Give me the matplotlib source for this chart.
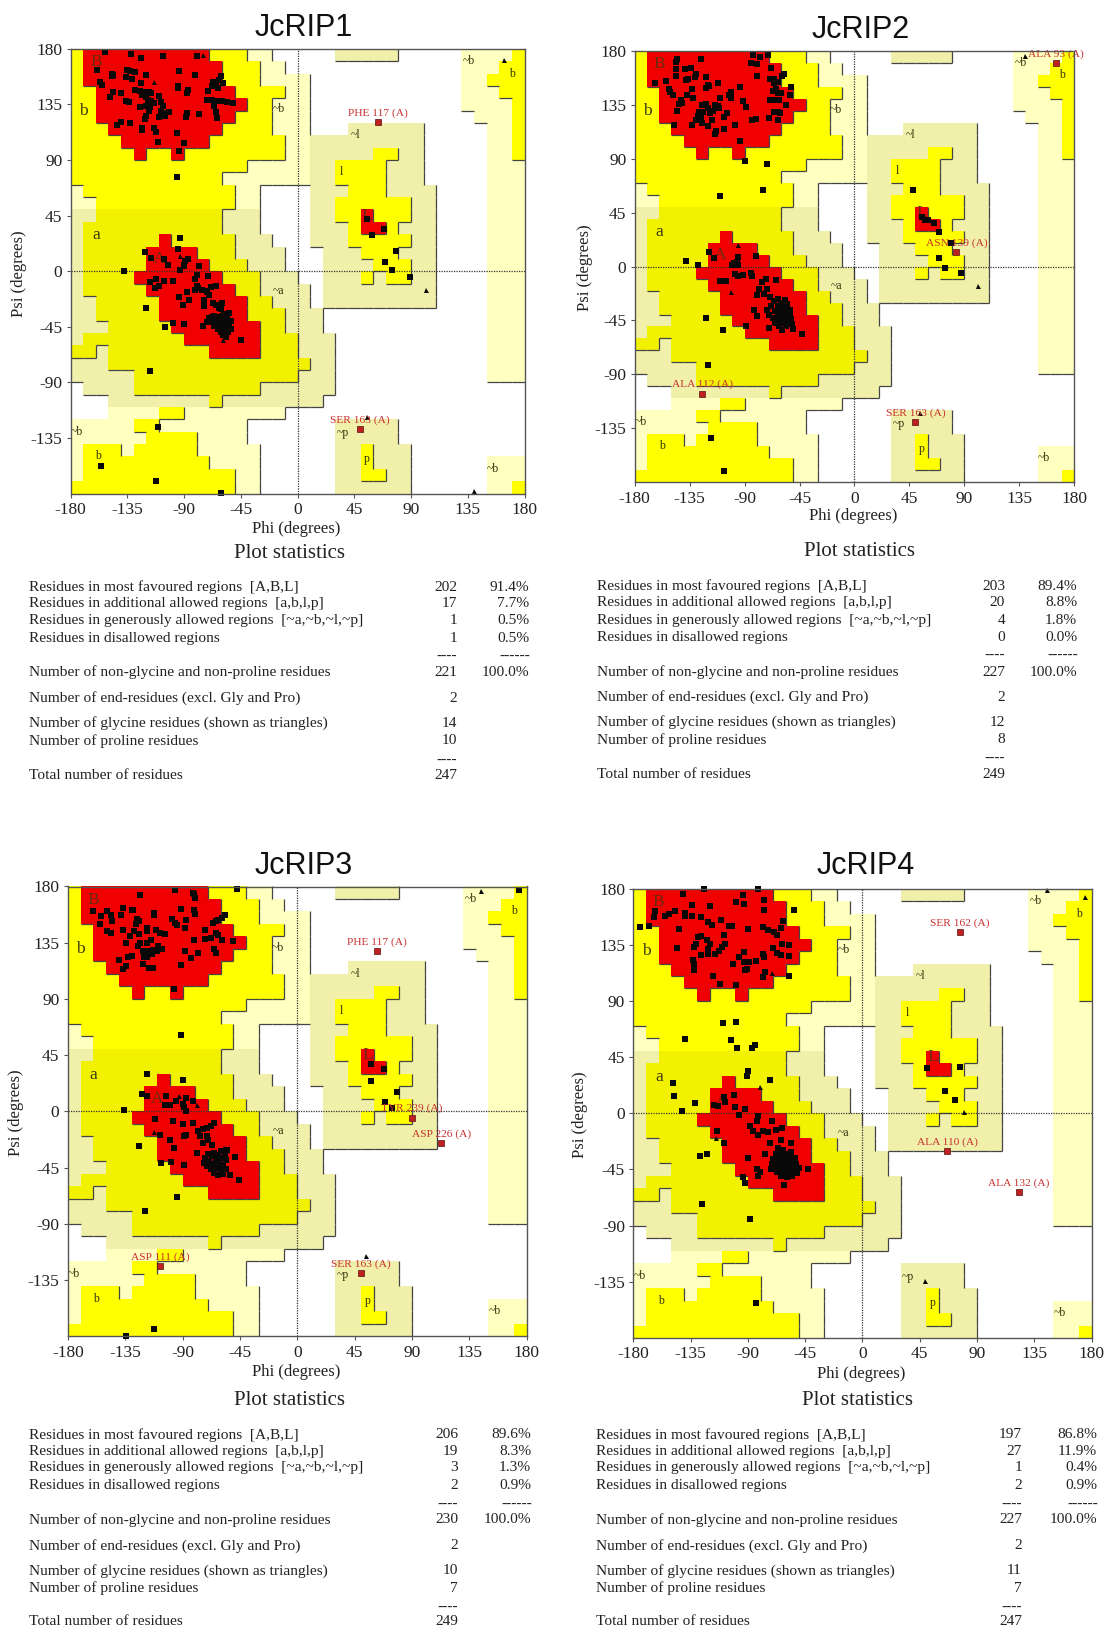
import numpy as np
import matplotlib
matplotlib.use("Agg")
import matplotlib.pyplot as plt
from matplotlib.colors import ListedColormap
from matplotlib.collections import LineCollection

W, H = 1107, 1628
plt.rcParams['font.family'] = ['Liberation Serif', 'DejaVu Serif']
plt.rcParams['axes.unicode_minus'] = False

REGION_CODES = ".PKYAR"
REGION_COLORS = ['#FFFFFF', '#FFFFC0', '#F0F0AA', '#FFFF00', '#F2F200', '#F00000']
# one row per 10 degrees of psi, from +180 down to -180; runs of 10-degree phi cells
REGION_RUNS = [
 "Y1 R10 Y3 P2 .5 K5 .5 P4 Y1",
 "Y1 R11 Y3 P2 .14 P3 Y2",
 "Y1 R11 Y3 P4 .12 P2 Y3",
 "Y2 R11 Y4 P2 .12 P3 Y2",
 "Y2 R12 Y2 P3 .12 P4 Y1",
 "Y2 R11 Y3 P3 .13 P3 Y1",
 "Y3 R9 Y4 P3 .3 K6 .5 P2 Y1",
 "Y4 R7 Y6 P2 K9 .5 P2 Y1",
 "Y5 R1 Y2 R1 Y8 P2 K5 Y2 K2 .5 P2 Y1",
 "Y14 P5 K2 Y4 K3 .5 P3",
 "Y12 P7 K2 Y4 K3 .5 P3",
 "P1 Y12 P2 .4 K3 Y3 K4 .4 P3",
 "P2 Y11 P2 .4 K2 Y6 K2 .4 P3",
 "K2 A10 K3 .4 K2 Y2 R1 Y3 K2 .4 P3",
 "K1 A11 K3 .4 K3 Y1 R2 Y1 K3 .4 P3",
 "K1 A6 R1 A5 K3 .3 K3 Y5 K2 .4 P3",
 "K1 A5 R4 A3 K4 .3 K3 Y3 K3 .4 P3",
 "K1 A5 R5 A3 K3 .3 K4 Y3 K2 .4 P3",
 "K1 A4 R7 A3 K3 .2 K3 Y1 K1 Y2 K2 .4 P3",
 "K1 A5 R7 A2 K4 .1 K9 .4 P3",
 "K2 A5 R7 A2 K3 .1 K9 .4 P3",
 "K2 A5 R7 A3 K3 .13 P3",
 "K3 A5 R7 A2 K3 .13 P3",
 "K1 A8 R6 A3 K3 .12 P3",
 "A2 K1 A8 R4 A3 K3 .12 P3",
 "K3 A16 K2 .12 P3",
 "K5 A13 K3 .12 P3",
 ".1 K4 A10 K6 .15",
 ".3 K8 A1 K8 .16",
 ".3 P4 Y2 P8 .19",
 "P5 Y2 P7 .7 K5 .10",
 "P6 Y4 P4 .7 K5 .10",
 "P1 Y3 P1 Y5 P5 .6 K2 Y1 K3 .9",
 "P1 Y10 P4 .6 K2 Y1 K3 .6 P3",
 "P1 Y12 P2 .6 K2 Y2 K2 .6 P3",
 "Y13 P2 .6 K6 .6 P2 Y1",
]

REGION_LABELS_BIG = [("B", -160, 169), ("b", -170, 130), ("a", -160, 29), ("A", -110, 10), ("L", 55, 45)]
REGION_LABELS_SMALL = [("~b", -15, 131), ("~l", 46, 110), ("l", 35, 80), ("~a", -15, -16),
                       ("~b", -175, -130), ("b", -158, -150), ("~p", 36, -131), ("p", 55, -152),
                       ("~b", 155, -160), ("~b", 136, 170), ("b", 170, 160)]
XTICKS = [-180, -135, -90, -45, 0, 45, 90, 135, 180]
YTICKS = [-135, -90, -45, 0, 45, 90, 135, 180]

RIP1_TITLE = "JcRIP1"
RIP1_SQUARES = [(-153,177.5),(-132,176),(-124,172.5),(-107,174),(-80,174),(-159,163),(-147,160),(-146,159),(-147,158),
 (-135,163),(-133,162),(-129,161),(-120,159),(-94,162),(-81,159),(-61,158),(-62,155),(-59,152),(-67,153),(-65,150),(-63,148),(-68,150),
 (-157,153.5),(-155,151),(-136,157),(-131,156),(-124,152),(-95,150),(-95,148),(-146,145),(-149,141),(-140,144),
 (-129,147),(-125,146),(-121,145),(-118,145),(-123,143),(-120,141),(-116,144),(-87,147),(-88,144),(-71,146),(-72,139),
 (-134,137),(-136,138),(-119,139),(-116,138),(-120,134),(-117,133),(-114,136),(-125,133),
 (-110,141.5),(-108,137),(-107,134),(-108,130),(-105,128),(-102,129),(-105,126),(-110,125),(-118,130),(-120,126),(-121,123),
 (-88,128),(-88.5,125),(-78,127),(-68,139),(-64,138),(-60,138),(-56,137),(-51,136),(-66,134),(-65,129),(-64,124),
 (-143,118),(-140,121),(-133,120),(-123,116),(-123,114),(-114,116),(-112,113),(-96,112),(-111,105),(-90,104),(-94,97),(-96,76),
 (-93,27),(-95,18),(-121,15.5),(-116,11),(-106,10),(-103,5),(-138,0.5),(-87,10),(-89,8),(-90,4),(-93,1),(-90,5),(-78,4),
 (-80,-3),(-71,-4),(-81,-6),(-112,-6),(-117,-9),(-106,-8),(-99,-8),(-113,-14),(-110,-12),(-65,-12),
 (-80,-12),(-81,-15),(-79,-14),(-76,-15),(-72,-16),(-69,-13),(-72,-17),(-70,-19),(-88,-17),(-94,-21),(-91,-27),(-86,-23),
 (-74,-23),(-74,-28),(-67,-26),(-65,-27),(-60,-26),(-120,-30),(-62,-30),(-61,-31),(-54,-34),(-99,-42),(-90,-43),(-105,-45),(-75,-44),
 (-70,-38),(-68,-41),(-66,-36),(-65,-40),(-64,-43),(-63,-37),(-62,-45),(-61,-39),(-60,-42),(-59,-47),(-58,-35),(-58,-44),(-57,-50),
 (-56,-38),(-56,-46),(-55,-41),(-55,-49),(-54,-44),(-53,-40),(-53,-47),(-60,-36),(-62,-41),(-64,-38),(-66,-44),(-68,-37),(-72,-41),
 (-59,-52),(-57,-53),(-61,-49),(-63,-47),(-45,-56),(-117,-81),
 (-111,-126),(-156,-158),(-112.5,-170),(-61,-179.5),
 (55,42),(68.5,34),(59,29),(78,16),(69,7.5),(75,1),(89,-4.5)]
RIP1_TRIANGLES = [(-75,175),(-114,153),(-93,12),(-59,-56),(55,-118),(140,-178),(164,171),(102,-15)]
RIP1_OUTLIERS = [("PHE 117 (A)",64,120.5),("SER 163 (A)",49.5,-128)]
RIP1_STATS = ["202","91.4%","17","7.7%","1","0.5%","1","0.5%","221","100.0%","2","14","10","247"]

RIP2_TITLE = "JcRIP2"
RIP2_SQUARES = [(-145,173),(-146,171),(-126,173),(-83,177),(-77,175),(-71,177),(-85,170),(-80,169),(-68,166),
 (-139,165),(-134,166),(-146,165),(-146,159),(-138,156),(-136,157),(-131,158),(-130,161),(-122,158),(-80,159),(-163,153),(-154,155),
 (-112,153),(-120,152),(-122,149),(-119,151),(-94,150),(-152,148),(-151,146),(-149,143),(-133,148),(-137,143),(-132,141),(-142,139),(-144,136),(-141,137),(-145,130),
 (-101,146),(-103,143),(-101,141),(-110,141),(-91,138),(-89,133),
 (-57.6,161),(-59,159),(-66,157),(-69,157),(-63,154),(-66,153),(-64,148),(-67,147),(-63,145),(-60,145),(-69,139),(-66,139),(-62,139),(-52,150),(-53,143),(-56,135),(-63,129),(-66,129),(-61,128),(-63,122),(-70,124),(-81,123),(-84,122),
 (-127.5,129),(-124,129),(-126,125),(-120,132),(-114,135),(-111,132),(-107,125),(-104,128),(-125,120),(-130,122),(-133,118),(-148,118),(-117,122),(-120,117),(-113,113),(-114,111),(-107,115),(-98,118),(-94,105),
 (-125,135),(-122,136),(-118,128),(-116,130),(-112,134),(-128,126),
 (-90,88),(-72,86),(-75,64),(-110,59),
 (-138,5),(-128,1),(-119,12),(-115,7.5),(-95,8),(-96,4),(-98.5,2.6),(-100,1),(-95,1),(-81,9),
 (-98,-6),(-95,-7.5),(-91,-7),(-85,-5.5),(-84,-7.5),(-110,-12),(-105,-12),
 (-72.5,-10),(-64,-11),(-76,-13),(-78,-19),(-72,-19),(-80,-24),(-74,-23),(-69,-25),(-82,-36),(-80,-41),(-89,-50),(-121.6,-42.5),(-108,-53),(-120,-82.5),(-43,-56),
 (-70,-51),(-72,-36),(-70,-40),(-68,-33),(-67,-43),(-66,-29),(-65,-37),(-64,-47),(-63,-27),(-63,-33),(-62,-40),(-62,-50),(-61,-44),(-60,-30),(-60,-36),(-59,-47),(-59,-53),
 (-58,-41),(-58,-33),(-57,-28),(-57,-45),(-56,-37),(-56,-50),(-55,-42),(-55,-31),(-54,-47),(-53,-36),(-53,-41),(-51,-48),(-50,-52),(-52,-44),(-61,-38),(-63,-42),(-65,-46),
 (48,64),(55,41),(57.5,39),(60,38.5),(65,36),(69.5,29),(79,20),(69,7.5),(74,-1),(87.5,-5),
 (-117.4,-143.5),(-107,-170.5)]
RIP2_TRIANGLES = [(-95,18),(-101,-21),(101,-16),(54,-122),(140,176)]
RIP2_OUTLIERS = [("ALA 93 (A)",165,170),("ALA 112 (A)",-124.5,-106),("SER 163 (A)",50,-130),("ASN 139 (A)",83.5,12)]
RIP2_STATS = ["203","89.4%","20","8.8%","4","1.8%","0","0.0%","227","100.0%","2","12","8","249"]

RIP3_TITLE = "JcRIP3"
RIP3_SQUARES = [(-96,177),(-81,174),(-80,171),(-82,174.5),(-123.5,173),(-47.6,178),(-160,160),(-154,156),(-155,150),(-149,160),(-146,157),(-145,152),
 (-137,163),(-138,157),(-130,161),(-129,161),(-112,159),(-112,157),(-91,162),(-81,161),(-80.5,158),
 (-126,154),(-124,152),(-126.5,150),(-98,154),(-96,151),(-94,149),(-87,153),(-88,147),(-56.5,157),(-59,155),(-62,153),(-64,152),(-66,151),
 (-149,144),(-146,143),(-137,145),(-128,144),(-131,140.5),(-124,142),(-118,147),(-118,144),(-111,145.5),(-108,143),(-104,142),
 (-134,134.5),(-125,132),(-123,134.5),(-118,135),(-115,137),(-113,129),(-109,132),(-106,130),(-110,128),(-117,128),(-120,123.5),(-121,128),(-114,126),(-118,123.5),
 (-139.5,121),(-133,123.5),(-130,124),(-137,114),(-134,116),(-121,118),(-116.5,115),(-113,114.5),
 (-81,137),(-72,145),(-68,139),(-64,143),(-62,141),(-59,137),(-72,138),(-50,136),(-65,130),(-63.5,127),(-88,128),(-83,122.7),(-78,127),(-91,117),(-97,98),(-91,61.5),
 (-118,30),(-90,25),(-121.6,14),(-118,12),(-103,12),(-104,5),(-100,5),(-95,8),(-87,10.5),(-82,8.5),(-90,6),(-89,3.6),(-87,0),
 (-136,1),(-111.6,-6),(-108,-18.5),(-97.6,-7.5),(-90,-10),(-82,-9),(-87,-18.5),(-88.6,-20),(-99.5,-22.6),(-97,-29.5),(-124,-28),(-107,-41),(-99,-40.5),(-89,-42.5),
 (-65,-9),(-68,-11.6),(-71,-13),(-74,-14),(-78,-15.7),(-76.5,-20),(-71,-20),(-70,-22.6),(-74,-25),(-67,-27),(-78.6,-33),(-49,-36.7),(-52.7,-50.7),(-46,-55),
 (-73,-41),(-72,-37),(-71,-44),(-70,-34),(-69,-40),(-68,-46),(-67,-36),(-66,-43),(-65,-33),(-65,-49),(-64,-39),(-63,-45),(-62,-35),(-62,-51),(-61,-41),(-60,-47),(-60,-32),(-59,-37),(-58,-43),(-58,-50),(-57,-34),(-56,-39),(-56,-46),(-55,-31),(-68,-42),(-63,-42),
 (-94,-68.6),(-119.5,-80),(-112.4,-174),(-134,-179.7),
 (58,38),(68,33.6),(58,24.5),(78,15.4),(68.6,7.4),(74,2.8),(174,177)]
RIP3_TRIANGLES = [(-93,12),(-79,5),(-112,-16.5),(-57.6,-29.5),(54,-116),(144.6,176)]
RIP3_OUTLIERS = [("PHE 117 (A)",62.4,128),("TYR 239 (A)",90,-5),("ASP 226 (A)",113,-25.6),("ASP 111 (A)",-107.8,-123.8),("SER 163 (A)",49.7,-129.5)]
RIP3_STATS = ["206","89.6%","19","8.3%","3","1.3%","2","0.9%","230","100.0%","2","10","7","249"]

RIP4_TITLE = "JcRIP4"
RIP4_SQUARES = [(-124.6,180),(-82,179.5),(-141,175.6),(-93.5,175),(-93,168),(-99.5,169),(-77,170.6),(-77.6,163),(-54,162.6),(-134,166.5),(-120,165.7),
 (-163,162),(-164,157),(-168,150),(-175,149.5),(-155,158),(-152,159.6),(-147.6,161.8),(-139,160.4),(-139,158),(-134,158),(-127,157),(-121,153.5),(-118.4,151),(-110.8,154.6),
 (-144,148),(-105,150),(-102.7,150.4),(-109,143),(-89.7,148),(-77.8,149),(-73.8,146.6),(-69.7,145),(-67,143),(-64,148.6),(-62,154),
 (-126.5,142),(-129,141),(-130.5,136),(-132,133),(-145.4,132.6),(-122,139),(-120,136),(-121,132),(-121.6,128),(-126.5,126.5),(-110,133),(-107.6,136),(-113,130),(-115.7,128),
 (-133,123),(-132.6,120),(-132,114.7),(-96.8,125),(-93,129),(-92.7,121),(-89,121),(-83.8,122),(-92.4,115),(-90.5,115.5),(-77.8,128),(-77,125),(-102,120),(-117,109.6),(-111.6,103.6),(-99,102.8),
 (-76.5,113),(-77.8,109),(-58,110),(-70,132.8),(-67,128.4),(-63.8,127),(-57.6,134.8),(-57.6,126),(-63,136),
 (-109.7,72),(-99.5,73),(-139,59.4),(-103,59),(-98.4,52.5),(-86.5,52.5),(-84.3,55),(-89.5,34),(-90.5,30),(-72.4,27),
 (-149,24),(-148,14),(-131.6,8),(-142,2),(-109,13),(-107.6,9),(-116.8,6.5),(-113.5,6),(-100.8,15),(-100.3,5),(-92,3.4),(-97,-1),(-82,-2),(-83,-6),(-71,-6),
 (-114,-14),(-108.6,-24),(-127.8,-34),(-122.4,-33),(-90,-35.6),(-88.6,-10),(-86,-14),(-82,-17),(-78,-14),(-74,-15),(-68,-13),(-63,-12),(-72.4,-24),(-63.8,-21),(-56,-24),(-76.5,-33),
 (-94,-51),(-92.4,-56),(-83,-45),(-80.5,-47),(-82,-50),(-43,-45),(-51,-48),(-55,-50),(-61.6,-57.5),
 (-72,-45),(-71,-41),(-70,-37),(-69,-44),(-68,-33),(-68,-40),(-67,-47),(-66,-36),(-66,-28),(-65,-43),(-65,-31),(-64,-39),(-64,-50),(-63,-34),(-63,-46),(-62,-41),(-62,-29),(-61,-37),(-61,-48),(-60,-43),(-60,-33),(-59,-40),(-59,-51),(-58,-36),(-58,-46),(-57,-42),(-56,-31),(-56,-48),(-55,-38),(-54,-44),(-53,-36),(-52,-41),(-50,-44),
 (-125.7,-73),(-88.4,-85),(-83.8,-151.6),
 (51,36),(76.5,37),(65,18),(73,11)]
RIP4_TRIANGLES = [(-80.8,21.4),(-115,-20),(-71,112),(79.7,1),(49,-134),(145,179),(175,173)]
RIP4_OUTLIERS = [("SER 162 (A)",76.5,145),("ALA 110 (A)",66.8,-30),("ALA 132 (A)",123,-63)]
RIP4_STATS = ["197","86.8%","27","11.9%","1","0.4%","2","0.9%","227","100.0%","2","11","7","247"]

STAT_ROWS = ["Residues in most favoured regions  [A,B,L]",
             "Residues in additional allowed regions  [a,b,l,p]",
             "Residues in generously allowed regions  [~a,~b,~l,~p]",
             "Residues in disallowed regions",
             "Number of non-glycine and non-proline residues",
             "Number of end-residues (excl. Gly and Pro)",
             "Number of glycine residues (shown as triangles)",
             "Number of proline residues",
             "Total number of residues"]


def runs_to_grid(runs):
    rows = []
    for line in runs:
        row = []
        for tok in line.split():
            row += [REGION_CODES.index(tok[0])] * int(tok[1:])
        assert len(row) == 36, line
        rows.append(row)
    return np.array(rows)[::-1]  # row 0 = psi -180


GRID = runs_to_grid(REGION_RUNS)
LEVEL = np.array([0, 1, 1, 2, 2, 3])[GRID]
EDGES = np.arange(-180, 181, 10)

fig = plt.figure(figsize=(W / 100, H / 100), dpi=100)


def ftext(px, py, s, **kw):
    kw.setdefault('va', 'center')
    kw.setdefault('color', '#222222')
    return fig.text(px / W, 1 - (py + 1.5) / H, s, **kw)


def draw_panel(box, title, title_xy, squares, triangles, outliers, xlab, ylab):
    x0, x1, y0, y1 = box
    ax = fig.add_axes([x0 / W, 1 - y1 / H, (x1 - x0) / W, (y1 - y0) / H])
    ax.pcolormesh(EDGES, EDGES, GRID, cmap=ListedColormap(REGION_COLORS), vmin=-0.5, vmax=5.5, zorder=1)
    segs = []
    for r in range(36):
        for c in range(36):
            if c < 35 and LEVEL[r, c] > LEVEL[r, c + 1]:
                segs.append([(EDGES[c + 1], EDGES[r]), (EDGES[c + 1], EDGES[r + 1])])
            if r > 0 and LEVEL[r, c] > LEVEL[r - 1, c]:
                segs.append([(EDGES[c], EDGES[r]), (EDGES[c + 1], EDGES[r])])
    ax.add_collection(LineCollection(segs, colors='#444444', linewidths=0.9, zorder=2))
    ax.axhline(0, color='#333333', lw=0.9, ls=(0, (1, 1)), zorder=3)
    ax.axvline(0, color='#333333', lw=0.9, ls=(0, (1, 1)), zorder=3)
    for s, a, b in REGION_LABELS_BIG:
        ax.text(a, b, s, fontsize=12.5, color='#6b2a10' if s in 'BAL' else '#3a3a10', ha='center', va='center', zorder=4)
    for s, a, b in REGION_LABELS_SMALL:
        ax.text(a, b, s, fontsize=8.5, color='#333310', ha='center', va='center', zorder=4)
    sq = np.array(squares)
    ax.plot(sq[:, 0], sq[:, 1], 's', color='#080808', ms=3.9, mew=0, zorder=5, clip_on=False)
    tr = np.array(triangles)
    ax.plot(tr[:, 0], tr[:, 1], '^', color='#080808', ms=3.6, mew=0, zorder=5, clip_on=False)
    for s, a, b in outliers:
        ax.plot([a], [b], 's', color='#C02020', mec='#551010', mew=0.5, ms=3.9, zorder=6)
        ax.annotate(s, (a, b), xytext=(0, 6.5), textcoords='offset points', ha='center', va='center',
                    fontsize=8.2, color='#C83030', zorder=7, annotation_clip=False)
    ax.set_xlim(-180, 180)
    ax.set_ylim(-180, 180)
    ax.set_xticks(XTICKS)
    ax.set_yticks(YTICKS)
    ax.tick_params(labelsize=12.5, length=3, width=0.8, color='#555555', labelcolor='#222222', pad=3)
    for sp in ax.spines.values():
        sp.set_color('#555555')
        sp.set_linewidth(1.0)
        sp.set_zorder(8)
    ftext(title_xy[0], title_xy[1], title, fontsize=22, family='Liberation Sans', ha='center', color='#111111')
    ftext(xlab[0], xlab[1], "Phi (degrees)", fontsize=12, ha='center')
    ftext(ylab[0] + 2, ylab[1], "Psi (degrees)", fontsize=12, ha='center', rotation=90)


def draw_stats(title_xy, xlabel, xcount, xpct, ys, stats):
    ftext(title_xy[0], title_xy[1], "Plot statistics", fontsize=15, ha='center')
    fs = 11.05
    row_y = [ys[0], ys[1], ys[2], ys[3], ys[5], ys[6], ys[7], ys[8], ys[10]]
    for s, y in zip(STAT_ROWS, row_y):
        ftext(xlabel, y, s, fontsize=fs, ha='left')
    for i in range(5):
        y = row_y[i]
        ftext(xcount, y, stats[2 * i], fontsize=fs, ha='right')
        ftext(xpct, y, stats[2 * i + 1], fontsize=fs, ha='right')
    for i, j in zip(range(10, 14), [5, 6, 7, 8]):
        ftext(xcount, row_y[j], stats[i], fontsize=fs, ha='right')
    ftext(xcount, ys[4], "----", fontsize=fs, ha='right')
    ftext(xpct + 1, ys[4], "------", fontsize=fs, ha='right')
    ftext(xcount, ys[9], "----", fontsize=fs, ha='right')


k = 1.0385
rows_a = [v * k for v in [564, 580, 596, 613, 631, 646, 671, 695, 712, 731, 745]]
rows_b = [v * k for v in [563, 579, 596, 612, 630, 646, 670, 694, 711, 729, 744]]
rows_c = [v * k for v in [1380, 1396, 1412, 1429, 1447, 1462, 1487, 1511, 1528, 1546, 1560]]

draw_panel((70.6, 524.5, 48.9, 493.5), RIP1_TITLE, (304, 26), RIP1_SQUARES, RIP1_TRIANGLES, RIP1_OUTLIERS, (296, 527.5), (16.6, 272))
draw_panel((634.7, 1074.2, 51, 482.2), RIP2_TITLE, (861, 29), RIP2_SQUARES, RIP2_TRIANGLES, RIP2_OUTLIERS, (853.6, 515), (582.6, 266))
draw_panel((67.8, 526.6, 886.5, 1336.3), RIP3_TITLE, (304, 865), RIP3_SQUARES, RIP3_TRIANGLES, RIP3_OUTLIERS, (296, 1371), (13.5, 1111))
draw_panel((633.3, 1091.5, 888.6, 1338), RIP4_TITLE, (866, 865), RIP4_SQUARES, RIP4_TRIANGLES, RIP4_OUTLIERS, (861, 1372), (578, 1113))

draw_stats((290, 551.5), 29, 457, 529.5, rows_a, RIP1_STATS)
draw_stats((859, 550.5), 597, 1005, 1077, rows_b, RIP2_STATS)
draw_stats((290, 1399), 29, 458, 531, rows_c, RIP3_STATS)
draw_stats((858, 1399), 596, 1022, 1097, rows_c, RIP4_STATS)

fig.savefig("out.png", dpi=100)
